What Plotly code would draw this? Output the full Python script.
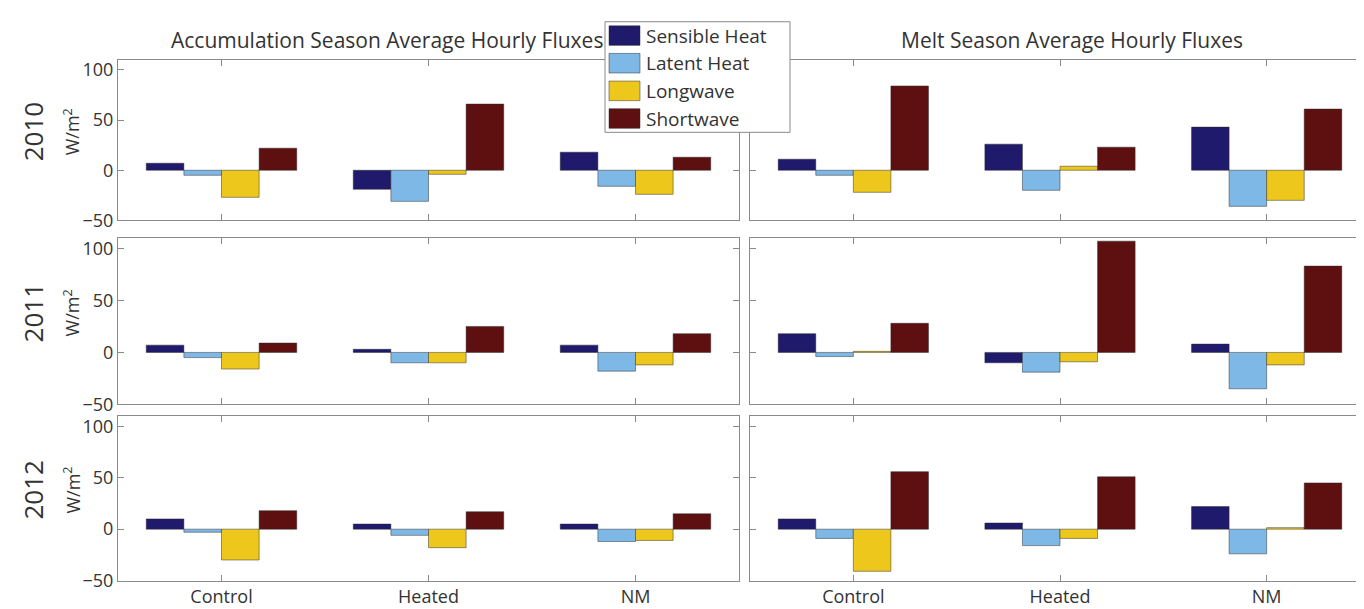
import plotly.graph_objects as go

# ---------------- data ----------------
groups = ["Control", "Heated", "NM"]
years = ["2010", "2011", "2012"]
series_names = ["Sensible Heat", "Latent Heat", "Longwave", "Shortwave"]
series_colors = ["#1f1a6b", "#7db8e6", "#edc71c", "#5e1010"]
season_titles = ["Accumulation Season Average Hourly Fluxes", "Melt Season Average Hourly Fluxes"]
y_ticks = [-50, 0, 50, 100]

# rows: 2010, 2011, 2012 ; columns: Control, Heated, NM
sensible_accum = [[7, -19, 18], [7, 3, 7], [10, 5, 5]]
latent_accum = [[-5, -31, -16], [-5, -10, -18], [-3, -6, -12]]
longwave_accum = [[-27, -4, -24], [-16, -10, -12], [-30, -18, -11]]
shortwave_accum = [[22, 66, 13], [9, 25, 18], [18, 17, 15]]

sensible_melt = [[11, 26, 43], [18, -10, 8], [10, 6, 22]]
latent_melt = [[-5, -20, -36], [-4, -19, -35], [-9, -16, -24]]
longwave_melt = [[-22, 4, -30], [1, -9, -12], [-41, -9, 1.5]]
shortwave_melt = [[84, 23, 61], [28, 107, 83], [56, 51, 45]]

accum = [sensible_accum, latent_accum, longwave_accum, shortwave_accum]
melt = [sensible_melt, latent_melt, longwave_melt, shortwave_melt]

# ---------------- layout geometry (pixels) ----------------
W, H = 1364, 609
col_px = [(110, 731), (742, 1362)]
row_px = [(51, 215), (233, 403), (415, 583)]

def px_x(v):
    return v / W

def px_y(v):
    return 1 - v / H

FONT = "Open Sans"
FRAME = "#8a8a8a"
TXT = "#333333"

fig = go.Figure()
layout = {}
k = 0
for r in range(3):
    for c in range(2):
        k += 1
        data = accum if c == 0 else melt
        xa = "x" if k == 1 else f"x{k}"
        ya = "y" if k == 1 else f"y{k}"
        for s in range(4):
            fig.add_trace(go.Bar(
                x=groups, y=data[s][r], name=series_names[s],
                marker=dict(color=series_colors[s], line=dict(color="rgba(40,40,40,0.6)", width=0.8)),
                xaxis=xa, yaxis=ya, showlegend=False, hoverinfo="x+y+name",
            ))
        xkey = "xaxis" if k == 1 else f"xaxis{k}"
        ykey = "yaxis" if k == 1 else f"yaxis{k}"
        layout[xkey] = dict(
            domain=[px_x(col_px[c][0]), px_x(col_px[c][1])],
            anchor=ya, type="category", range=[-0.5, 2.5],
            showline=True, linecolor=FRAME, linewidth=1, mirror="ticks",
            ticks="inside", ticklen=6, tickcolor=FRAME,
            showgrid=False, zeroline=False,
            showticklabels=(r == 2),
            tickfont=dict(family=FONT, size=18, color=TXT),
        )
        layout[ykey] = dict(
            domain=[px_y(row_px[r][1]), px_y(row_px[r][0])],
            anchor=xa, range=[-50, 110], tickvals=y_ticks,
            showline=True, linecolor=FRAME, linewidth=1, mirror="ticks",
            ticks="inside", ticklen=6, tickcolor=FRAME,
            showgrid=False, zeroline=False,
            showticklabels=(c == 0),
            tickfont=dict(family=FONT, size=18, color=TXT),
        )

annotations = []
# season titles
annotations.append(dict(text=season_titles[0], x=px_x(379), y=px_y(31), xref="paper", yref="paper",
                        showarrow=False, font=dict(family=FONT, size=21, color=TXT), xanchor="center", yanchor="middle"))
annotations.append(dict(text=season_titles[1], x=px_x(1064), y=px_y(31), xref="paper", yref="paper",
                        showarrow=False, font=dict(family=FONT, size=21, color=TXT), xanchor="center", yanchor="middle"))
# row labels
for r in range(3):
    yc = (row_px[r][0] + row_px[r][1]) / 2 - 8
    annotations.append(dict(text=years[r], x=px_x(25), y=px_y(yc), xref="paper", yref="paper", textangle=-90,
                            showarrow=False, font=dict(family=FONT, size=26, color=TXT), xanchor="center", yanchor="middle"))
    annotations.append(dict(text="W/m<sup>2</sup>", x=px_x(64), y=px_y(yc), xref="paper", yref="paper", textangle=-90,
                            showarrow=False, font=dict(family=FONT, size=18, color=TXT), xanchor="center", yanchor="middle"))

# manual legend (MATLAB style)
shapes = []
lx0, lx1, ly0, ly1 = 597, 782, 12, 125
shapes.append(dict(type="rect", xref="paper", yref="paper", x0=px_x(lx0), x1=px_x(lx1), y0=px_y(ly1), y1=px_y(ly0),
                   fillcolor="white", line=dict(color=FRAME, width=1), layer="above"))
entry_h = (ly1 - ly0) / 4
for s in range(4):
    cy = ly0 + entry_h * (s + 0.5)
    shapes.append(dict(type="rect", xref="paper", yref="paper", x0=px_x(601), x1=px_x(632),
                       y0=px_y(cy + 10), y1=px_y(cy - 10), fillcolor=series_colors[s],
                       line=dict(color="rgba(40,40,40,0.6)", width=0.8), layer="above"))
    annotations.append(dict(text=series_names[s], x=px_x(636), y=px_y(cy), xref="paper", yref="paper",
                            showarrow=False, font=dict(family=FONT, size=19, color=TXT), xanchor="left", yanchor="middle"))

fig.update_layout(
    width=W, height=H, margin=dict(l=0, r=0, t=0, b=0),
    paper_bgcolor="white", plot_bgcolor="white",
    barmode="group", bargap=0.273, bargroupgap=0,
    annotations=annotations, shapes=shapes, showlegend=False,
    **layout,
)
fig.write_html("out.html")
